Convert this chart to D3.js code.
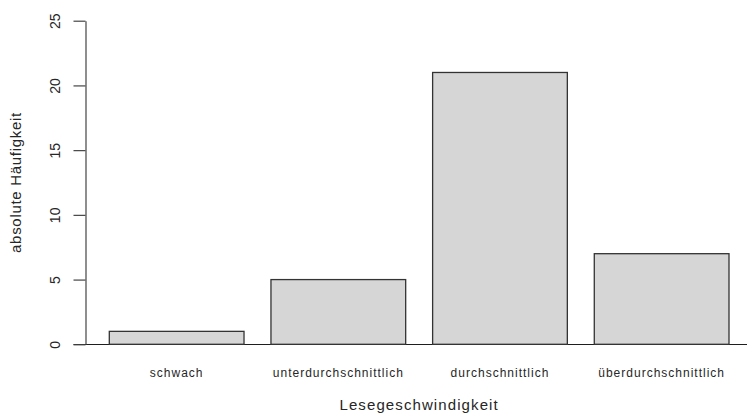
<!DOCTYPE html>
<html>
<head>
<meta charset="utf-8">
<script src="https://cdn.jsdelivr.net/npm/d3@7"></script>
<style>
  html, body { margin: 0; padding: 0; background: #fff; }
  svg { display: block; }
  text { font-family: Arial, "Liberation Sans", sans-serif; fill: #262626; }
</style>
</head>
<body>
<svg id="chart" width="747" height="415"></svg>
<script>
// Lesegeschwindigkeit: absolute Häufigkeiten je Kategorie
const categories = ["schwach", "unterdurchschnittlich", "durchschnittlich", "überdurchschnittlich"];
const counts = [1, 5, 21, 7];
const yTicks = [0, 5, 10, 15, 20, 25];
const xTitle = "Lesegeschwindigkeit";
const yTitle = "absolute Häufigkeit";

const svg = d3.select("#chart");
const W = 747, H = 415;

const y = d3.scaleLinear().domain([0, 25]).range([344.3, 20.7]);
const x = d3.scaleBand()
  .domain(categories)
  .range([109.3, 729])
  .paddingInner(0.2 / 1.2)
  .paddingOuter(0);

const axisX = 85.5;

// baseline of the bars
svg.append("line")
  .attr("x1", axisX - 12).attr("x2", W)
  .attr("y1", Math.round(y(0)) + 0.5).attr("y2", Math.round(y(0)) + 0.5)
  .attr("stroke", "#1e1e1e").attr("stroke-width", 1.2);

// bars
svg.append("g").selectAll("rect")
  .data(categories)
  .join("rect")
  .attr("x", d => x(d))
  .attr("y", (d, i) => y(counts[i]))
  .attr("width", x.bandwidth())
  .attr("height", (d, i) => y(0) - y(counts[i]))
  .attr("fill", "#d6d6d6")
  .attr("stroke", "#333")
  .attr("stroke-width", 1.3);

// y axis with rotated tick labels
const yAxis = svg.append("g")
  .attr("transform", `translate(${axisX},0)`)
  .call(d3.axisLeft(y).tickValues(yTicks).tickSize(12).tickSizeOuter(0));
yAxis.select(".domain").attr("stroke", "#444").attr("stroke-width", 1.2);
yAxis.selectAll(".tick line").attr("stroke", "#444").attr("stroke-width", 1.2);
yAxis.selectAll(".tick text")
  .attr("transform", "rotate(-90)")
  .attr("x", 0).attr("y", -25.5).attr("dy", 0)
  .attr("text-anchor", "middle")
  .style("font-size", "14px")
  .style("fill", "#262626");

// category labels
svg.append("g").selectAll("text")
  .data(categories)
  .join("text")
  .attr("x", d => x(d) + x.bandwidth() / 2)
  .attr("y", 377)
  .attr("text-anchor", "middle")
  .style("font-size", "12px")
  .style("letter-spacing", "1px")
  .text(d => d);

// axis titles
svg.append("text")
  .attr("x", (x.range()[0] + x.range()[1]) / 2)
  .attr("y", 410)
  .attr("text-anchor", "middle")
  .style("font-size", "15px")
  .style("letter-spacing", "1.1px")
  .text(xTitle);

svg.append("text")
  .attr("transform", `translate(21,${(y(0) + y(25)) / 2}) rotate(-90)`)
  .attr("text-anchor", "middle")
  .style("font-size", "15px")
  .style("letter-spacing", "0.7px")
  .text(yTitle);
</script>
</body>
</html>
